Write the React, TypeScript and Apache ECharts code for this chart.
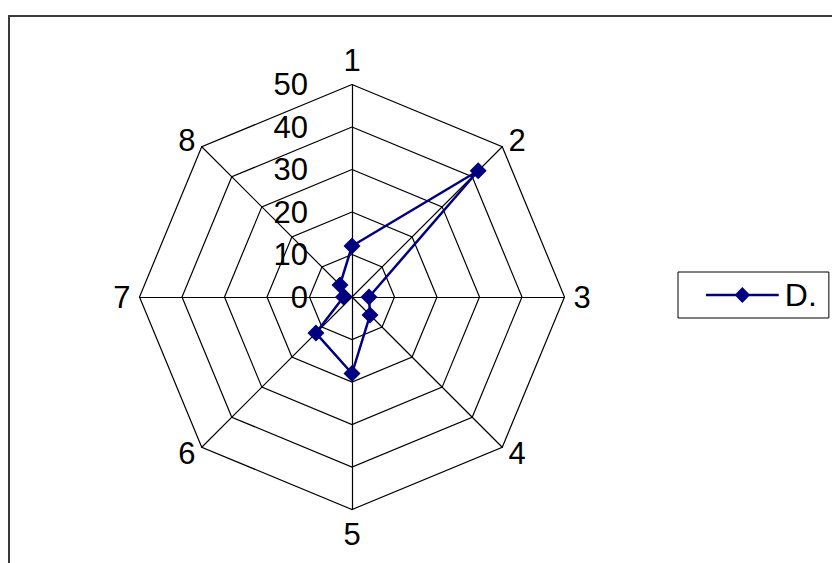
import React, { useEffect, useRef } from "react";
import * as echarts from "echarts";

const categories = ["1", "2", "3", "4", "5", "6", "7", "8"];
const seriesName = "D.";
const values = [12, 42, 4, 6, 18, 12, 2, 4];
const axisMax = 50;
const splitCount = 5;

const FONT = "Liberation Sans, Arial, sans-serif";

export default function App() {
  const ref = useRef<HTMLDivElement>(null);
  useEffect(() => {
    document.body.style.margin = "0";
    if (!ref.current) return;
    const chart = echarts.init(ref.current, undefined, { renderer: "svg" });
    // ECharts radar runs counter-clockwise; reorder to get clockwise layout
    const order = [0, ...categories.map((_, i) => i).slice(1).reverse()];
    const indicator = order.map((i, k) => ({
      name: categories[i],
      max: axisMax,
      min: 0,
      axisLabel: k === 0 ? { show: true } : { show: false },
    }));
    const data = order.map((i) => values[i]);
    chart.setOption({
      animation: false,
      backgroundColor: "#ffffff",
      textStyle: { fontFamily: FONT },
      graphic: [
        {
          type: "rect",
          shape: { x: 9, y: 16, width: 900, height: 700 },
          style: { fill: "none", stroke: "#3a3a3a", lineWidth: 2 },
          silent: true,
        },
      ],
      legend: {
        left: 678,
        top: 272,
        orient: "vertical",
        data: [
          {
            name: seriesName,
            icon: "path://M0,7H75V9.5H0Z M37.5,0L45.5,8.25L37.5,16.5L29.5,8.25Z",
          },
        ],
        itemWidth: 75,
        itemHeight: 16,
        itemGap: 0,
        padding: [7, 12, 7, 28],
        borderColor: "#000000",
        borderWidth: 1,
        textStyle: { fontSize: 32, color: "#000000", fontFamily: FONT },
      },
      radar: {
        center: [352, 297],
        radius: 212.5,
        startAngle: 90,
        shape: "polygon",
        splitNumber: splitCount,
        nameGap: 9,
        axisName: { color: "#000000", fontSize: 31, fontFamily: FONT },
        axisLine: { lineStyle: { color: "#000000", width: 1.2 } },
        splitLine: { lineStyle: { color: "#000000", width: 1.2 } },
        splitArea: { show: false },
        axisTick: { show: false },
        axisLabel: { show: false, color: "#000000", fontSize: 31, margin: 44, fontFamily: FONT },
        indicator,
      },
      series: [
        {
          type: "radar",
          name: seriesName,
          symbol: "diamond",
          symbolSize: 17,
          lineStyle: { color: "#000080", width: 2.5 },
          itemStyle: { color: "#000080" },
          data: [{ value: data, name: seriesName }],
        },
      ],
    });
    return () => chart.dispose();
  }, []);
  return <div ref={ref} style={{ width: 832, height: 563 }} />;
}
